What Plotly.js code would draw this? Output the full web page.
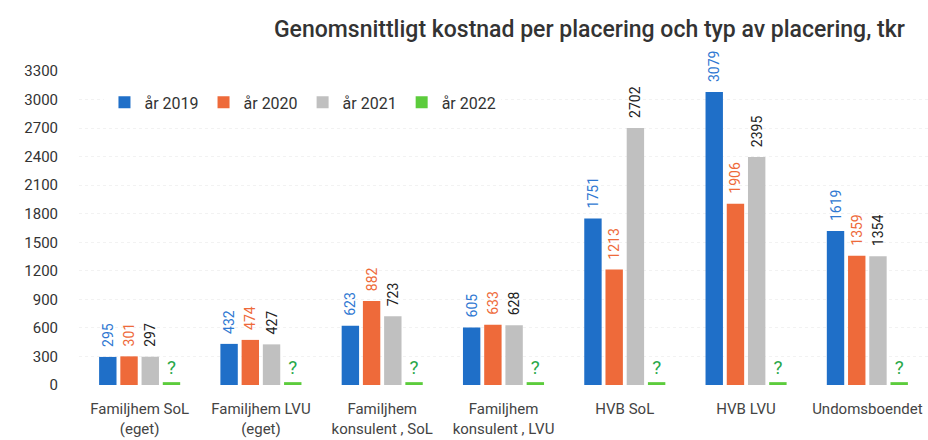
<!DOCTYPE html>
<html>
<head>
<meta charset="utf-8">
<script src="https://cdn.plot.ly/plotly-3.0.1.min.js"></script>
<style>
  body { margin: 0; background: #fff; }
  #grafik { width: 928px; height: 440px; }
</style>
</head>
<body>
<div id="grafik"></div>
<script>
// Kategorier och värden (tkr)
const kategorier = [
    'Familjhem SoL<br>(eget)',
    'Familjhem LVU<br>(eget)',
    'Familjhem<br>konsulent , SoL',
    'Familjhem<br>konsulent , LVU',
    'HVB SoL',
    'HVB LVU',
    'Undomsboendet'
];
const ar2019 = [295, 432, 623, 605, 1751, 3079, 1619];
const ar2020 = [301, 474, 882, 633, 1213, 1906, 1359];
const ar2021 = [297, 427, 723, 628, 2702, 2395, 1354];
const ar2022 = [30, 30, 30, 30, 30, 30, 30];   // okänt, visas som "?"
const etiketter2022 = ['?', '?', '?', '?', '?', '?', '?'];

const typsnitt = 'Roboto, Lato, sans-serif';

// lite luft mellan stapel och roterad etikett
const luft = '\u00a0\u00a0';

function serie(namn, varden, farg, textfarg, texter, vinkel, storlek) {
    return {
        type: 'bar',
        name: namn,
        x: kategorier,
        y: varden,
        marker: { color: farg },
        text: texter || varden.map(v => luft + v),
        textposition: 'outside',
        textangle: vinkel,
        constraintext: 'none',
        cliponaxis: false,
        textfont: { family: typsnitt, size: storlek, color: textfarg },
        hoverinfo: 'x+y'
    };
}

const data = [
    serie('år 2019', ar2019, '#1f6fc8', '#2f78d2', null, -90, 14),
    serie('år 2020', ar2020, '#ee6a3a', '#ee6a3a', null, -90, 14),
    serie('år 2021', ar2021, '#c0c0c0', '#222222', null, -90, 14),
    serie('år 2022', ar2022, '#5ccc3c', '#2aa84a', etiketter2022, 0, 19)
];

const layout = {
    width: 928,
    height: 440,
    margin: { l: 79, r: 0, t: 71, b: 55 },
    paper_bgcolor: '#ffffff',
    plot_bgcolor: '#ffffff',
    font: { family: typsnitt, color: '#333333' },
    title: {
        text: 'Genomsnittligt kostnad per placering och typ av placering, tkr',
        font: { family: typsnitt, size: 23, color: '#333333', weight: 500 },
        x: 0.975,
        xanchor: 'right',
        y: 0.935,
        yanchor: 'middle'
    },
    barmode: 'group',
    bargap: 0.3,
    bargroupgap: 0.18,
    showlegend: true,
    legend: {
        orientation: 'h',
        x: 0.03,
        xanchor: 'left',
        y: 0.9,
        yanchor: 'middle',
        font: { family: typsnitt, size: 16, color: '#333333' },
        itemwidth: 30,
        traceorder: 'normal'
    },
    xaxis: {
        tickfont: { family: typsnitt, size: 15, color: '#444444' },
        showgrid: false,
        showline: false,
        ticks: '',
        ticklabelstandoff: 13
    },
    yaxis: {
        range: [0, 3300],
        dtick: 300,
        tick0: 0,
        showgrid: true,
        gridcolor: '#f2f2f2',
        griddash: 'dot',
        zeroline: false,
        showline: false,
        ticks: '',
        ticklabelstandoff: 20,
        tickfont: { family: typsnitt, size: 15, color: '#333333' }
    }
};

Plotly.newPlot('grafik', data, layout, { displayModeBar: false, staticPlot: true });
</script>
</body>
</html>
